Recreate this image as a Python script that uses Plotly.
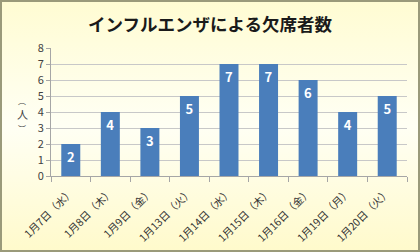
import base64
import plotly.graph_objects as go

categories = ["1月7日（水）", "1月8日（木）", "1月9日（金）", "1月13日（火）", "1月14日（水）",
              "1月15日（木）", "1月16日（金）", "1月19日（月）", "1月20日（火）"]
absentees = [2, 4, 3, 5, 7, 7, 6, 4, 5]
y_ticks = [0, 1, 2, 3, 4, 5, 6, 7, 8]

FONT = "Noto Sans CJK JP"

svg = (
    '<svg xmlns="http://www.w3.org/2000/svg" width="420" height="252" preserveAspectRatio="none">'
    '<defs><linearGradient id="g" x1="0" y1="0" x2="0" y2="1">'
    '<stop offset="0" stop-color="#FFFCD2"/>'
    '<stop offset="0.5" stop-color="#FFFFF4"/>'
    '<stop offset="1" stop-color="#FFFACB"/>'
    '</linearGradient></defs>'
    '<rect width="420" height="252" fill="url(#g)"/></svg>'
)
bg_uri = "data:image/svg+xml;base64," + base64.b64encode(svg.encode()).decode()

PW, PH = 356, 128  # plot area size in px


def px_x(x):
    return (x - 51) / PW


def px_y(y):
    return (176 - y) / PH


fig = go.Figure(
    go.Bar(
        x=categories,
        y=absentees,
        marker=dict(color="#4A7EBB", line=dict(width=0)),
        text=[str(v) for v in absentees],
        textposition="inside",
        insidetextanchor="end",
        textfont=dict(family=FONT, size=13, color="white", weight="bold"),
        width=0.48,
        cliponaxis=False,
    )
)

fig.update_layout(
    width=420,
    height=252,
    margin=dict(l=51, r=13, t=48, b=76),
    paper_bgcolor="#FFFDE8",
    plot_bgcolor="white",
    showlegend=False,
    font=dict(family=FONT, size=11, color="#404040"),
    title=dict(
        text="<b>インフルエンザによる欠席者数</b>",
        x=0.5, xanchor="center", xref="container",
        y=1 - 25 / 252, yanchor="middle", yref="container",
        font=dict(family=FONT, size=17.5, color="#1A1A1A"),
    ),
    images=[dict(
        source=bg_uri, xref="paper", yref="paper",
        x=px_x(0), y=px_y(0), sizex=420 / PW, sizey=252 / PH,
        xanchor="left", yanchor="top", sizing="stretch", layer="below",
    )],
    shapes=[dict(
        type="rect", xref="paper", yref="paper",
        x0=px_x(1), x1=px_x(419), y0=px_y(251), y1=px_y(1),
        line=dict(color="#9A9A7A", width=2), fillcolor="rgba(0,0,0,0)",
        layer="above",
    )],
    annotations=[
        dict(text="︵", xref="paper", yref="paper", x=px_x(22), y=px_y(100),
             xanchor="center", yanchor="middle", showarrow=False,
             font=dict(family=FONT, size=8, color="#404040")),
        dict(text="人", xref="paper", yref="paper", x=px_x(22), y=px_y(114),
             xanchor="center", yanchor="middle", showarrow=False,
             font=dict(family=FONT, size=11, color="#404040")),
        dict(text="︶", xref="paper", yref="paper", x=px_x(22), y=px_y(128),
             xanchor="center", yanchor="middle", showarrow=False,
             font=dict(family=FONT, size=8, color="#404040")),
    ],
)

fig.update_xaxes(
    type="category",
    automargin=False,
    tickangle=-45,
    tickson="boundaries",
    ticks="outside",
    ticklen=5,
    ticklabelstandoff=5,
    tickcolor="#A6A6A6",
    showline=True,
    linecolor="#A6A6A6",
    linewidth=1,
    showgrid=False,
    tickfont=dict(family=FONT, size=10.5, color="#333333"),
)
fig.update_yaxes(
    range=[0, 8],
    automargin=False,
    tickvals=y_ticks,
    ticks="outside",
    ticklen=4,
    tickcolor="#A6A6A6",
    showline=True,
    linecolor="#A6A6A6",
    linewidth=1,
    showgrid=True,
    gridcolor="#C8C8C8",
    gridwidth=1,
    zeroline=False,
    tickfont=dict(family=FONT, size=11, color="#404040"),
)

fig.write_html("out.html")
